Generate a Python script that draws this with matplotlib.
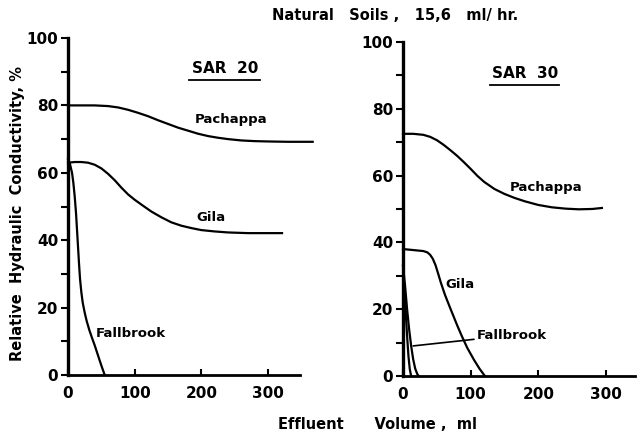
import matplotlib.pyplot as plt

# left panel (SAR 20)
pach20_x = [0, 20, 40, 60, 75, 90, 105, 120, 135, 150, 165, 180, 195, 210, 225,
            240, 260, 280, 300, 330, 367]
pach20_y = [80, 80, 80, 79.8, 79.4, 78.7, 77.8, 76.8, 75.6, 74.5, 73.4, 72.5, 71.6,
            70.9, 70.4, 70.0, 69.6, 69.4, 69.3, 69.2, 69.2]
gila20_x = [0, 10, 20, 30, 40, 50, 60, 70, 80, 90, 100, 112, 125, 140, 155, 170,
            185, 200, 220, 240, 270, 300, 321]
gila20_y = [63, 63.2, 63.2, 63, 62.4, 61.3, 59.7, 57.8, 55.6, 53.6, 52, 50.3, 48.5,
            46.8, 45.3, 44.3, 43.6, 43, 42.6, 42.3, 42.1, 42.1, 42.1]
fall20_x = [0, 3, 6, 8, 10, 12, 13.5, 15, 16.5, 18, 20, 22, 25, 28, 32, 36, 40, 45, 50, 55]
fall20_y = [64, 62.5, 60, 57, 53, 48, 43, 38, 33, 28.5, 24.5, 21.5, 18.5, 16, 13.3,
            11, 8.8, 5.8, 2.8, 0]

# right panel (SAR 30)
pach30_x = [0, 15, 30, 40, 50, 60, 70, 80, 90, 100, 110, 120, 135, 150, 165, 180,
            200, 220, 240, 260, 280, 294]
pach30_y = [72.5, 72.5, 72.2, 71.6, 70.6, 69.2, 67.6, 65.9, 64, 62, 59.9, 58.1, 56,
            54.5, 53.3, 52.3, 51.2, 50.5, 50.1, 49.9, 50, 50.3]
gila30_x = [0, 10, 20, 30, 36, 40, 44, 48, 52, 56, 62, 70, 80, 87, 95, 105, 113, 121]
gila30_y = [38, 37.8, 37.6, 37.4, 37, 36.3, 35.1, 33.2, 30.6, 27.9, 24.3, 20.2, 15.2,
            11.9, 8.4, 4.8, 2.2, 0]
fall30a_x = [0, 3, 6, 9, 12, 15, 18, 21, 23]
fall30a_y = [33, 27, 20, 14, 9, 5, 2.2, 0.6, 0]
fall30b_x = [0, 2, 4, 6, 8, 10, 12]
fall30b_y = [33, 26, 19, 12, 6, 2, 0]

yticks = [0, 20, 40, 60, 80, 100]
xticks = [0, 100, 200, 300]

plt.rcParams['font.family'] = 'DejaVu Sans'
plt.rcParams['font.weight'] = 'bold'

fig = plt.figure(figsize=(6.37, 4.44), dpi=100)
ax1 = fig.add_axes([0.1068, 0.1554, 0.3642, 0.759])
ax2 = fig.add_axes([0.6327, 0.1532, 0.3642, 0.7523])


def style(ax, xmax):
    ax.set_xlim(0, xmax)
    ax.set_ylim(0, 100)
    for s in ['top', 'right']:
        ax.spines[s].set_visible(False)
    ax.spines['left'].set_linewidth(2.4)
    ax.spines['bottom'].set_linewidth(2.0)
    ax.set_yticks(yticks)
    ax.set_yticks([10, 30, 50, 70, 90], minor=True)
    ax.set_xticks(xticks)
    ax.tick_params(axis='y', which='both', direction='out', length=5, width=1.5,
                   labelsize=11, pad=2)
    ax.tick_params(axis='x', direction='in', length=4, width=1.5,
                   labelsize=11, pad=8)
    for lab in ax.get_xticklabels() + ax.get_yticklabels():
        lab.set_fontweight('bold')


style(ax1, 348)
style(ax2, 343)

lw = 1.6
ax1.plot(pach20_x, pach20_y, color='black', lw=lw, clip_on=False)
ax1.plot(gila20_x, gila20_y, color='black', lw=lw, clip_on=False)
ax1.plot(fall20_x, fall20_y, color='black', lw=lw, clip_on=False)

ax2.plot(pach30_x, pach30_y, color='black', lw=lw, clip_on=False)
ax2.plot(gila30_x, gila30_y, color='black', lw=lw, clip_on=False)
ax2.plot(fall30a_x, fall30a_y, color='black', lw=lw, clip_on=False)
ax2.plot(fall30b_x, fall30b_y, color='black', lw=lw, clip_on=False)

fs = 9.5
# panel titles with underline
ax1.text(235, 91, 'SAR  20', ha='center', va='center', fontsize=11, fontweight='bold')
ax1.plot([181, 288], [87.5, 87.5], color='black', lw=1.3)
ax2.text(180, 90.5, 'SAR  30', ha='center', va='center', fontsize=11, fontweight='bold')
ax2.plot([128, 231], [87.2, 87.2], color='black', lw=1.3)

ax1.text(190, 75.7, 'Pachappa', ha='left', va='center', fontsize=fs, fontweight='bold')
ax1.text(193, 46.6, 'Gila', ha='left', va='center', fontsize=fs, fontweight='bold')
ax1.text(42, 12.2, 'Fallbrook', ha='left', va='center', fontsize=fs, fontweight='bold')

ax2.text(158, 56.3, 'Pachappa', ha='left', va='center', fontsize=fs, fontweight='bold')
ax2.text(62, 27.5, 'Gila', ha='left', va='center', fontsize=fs, fontweight='bold')
ax2.annotate('Fallbrook', xy=(15, 9), xytext=(109, 12.2), ha='left', va='center',
             fontsize=fs, fontweight='bold',
             arrowprops=dict(arrowstyle='-', color='black', lw=1.2, shrinkA=0, shrinkB=0))

fig.text(0.62, 0.966, 'Natural   Soils ,   15,6   ml/ hr.', ha='center', va='center',
         fontsize=10.5, fontweight='bold')
fig.text(0.592, 0.043, 'Effluent      Volume ,  ml', ha='center', va='center',
         fontsize=10.5, fontweight='bold')
fig.text(0.028, 0.52, 'Relative  Hydraulic  Conductivity, %', ha='center', va='center',
         rotation=90, fontsize=10.5, fontweight='bold')

fig.savefig('out.png', dpi=100)
